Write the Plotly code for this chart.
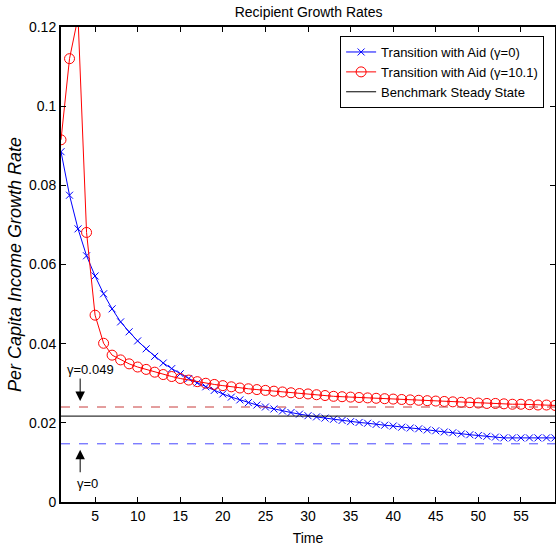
import plotly.graph_objects as go

time = list(range(1, 60))
growth_aid_gamma0 = [0.0885, 0.0775, 0.0690, 0.0622, 0.0571, 0.0526, 0.0488, 0.0455, 0.0430, 0.0407,
                     0.0387, 0.0368, 0.0351, 0.0337, 0.0324, 0.0312, 0.0301, 0.0291, 0.0282, 0.0273,
                     0.0265, 0.0258, 0.0251, 0.0245, 0.0240, 0.0235, 0.0230, 0.0226, 0.0222, 0.0218,
                     0.0215, 0.0212, 0.0209, 0.0206, 0.0203, 0.0201, 0.0199, 0.0196, 0.0194, 0.0192,
                     0.0189, 0.0187, 0.0185, 0.0182, 0.0180, 0.0177, 0.0175, 0.0172, 0.0170, 0.0168,
                     0.0166, 0.0164, 0.0162, 0.0162, 0.0162, 0.0162, 0.0162, 0.0162, 0.0162]
growth_aid_gamma10 = [0.0915, 0.1120, 0.1225, 0.0681, 0.0472, 0.0401, 0.0371, 0.0359, 0.0349, 0.0341,
                      0.0335, 0.0328, 0.0322, 0.0317, 0.0312, 0.0308, 0.0304, 0.0300, 0.0297, 0.0294,
                      0.0291, 0.0288, 0.0286, 0.0284, 0.0282, 0.0280, 0.0278, 0.0276, 0.0274, 0.0273,
                      0.0271, 0.0269, 0.0267, 0.0266, 0.0265, 0.0264, 0.0263, 0.0262, 0.0261, 0.0260,
                      0.0259, 0.0258, 0.0257, 0.0256, 0.0255, 0.0254, 0.0253, 0.0252, 0.0251, 0.0250,
                      0.0249, 0.0249, 0.0248, 0.0247, 0.0247, 0.0246, 0.0245, 0.0245, 0.0244]
benchmark_ss = 0.0217
ss_gamma_0049 = 0.0240
ss_gamma_0 = 0.0147
arrow_tip_0049 = 0.0255
arrow_tip_0 = 0.0132
arrow_x = 3.25

x_ticks = [5, 10, 15, 20, 25, 30, 35, 40, 45, 50, 55]
y_ticks = [0, 0.02, 0.04, 0.06, 0.08, 0.1, 0.12]
y_ticklabels = ["0", "0.02", "0.04", "0.06", "0.08", "0.1", "0.12"]

FONT = "Liberation Sans, Arial, Helvetica, sans-serif"

fig = go.Figure()
fig.add_trace(go.Scatter(
    x=time, y=growth_aid_gamma0, mode="lines+markers",
    name="Transition with Aid (γ=0)",
    line=dict(color="#0000ff", width=1),
    marker=dict(symbol="x-thin", size=7, line=dict(color="#0000ff", width=1)),
))
fig.add_trace(go.Scatter(
    x=time, y=growth_aid_gamma10, mode="lines+markers",
    name="Transition with Aid (γ=10.1)",
    line=dict(color="#ff0000", width=1),
    marker=dict(symbol="circle-open", size=10, color="#ff0000", line=dict(color="#ff0000", width=1)),
))
fig.add_trace(go.Scatter(
    x=[time[0], time[-1]], y=[benchmark_ss, benchmark_ss], mode="lines",
    name="Benchmark Steady State",
    line=dict(color="black", width=1),
))
fig.add_trace(go.Scatter(
    x=[time[0], time[-1]], y=[ss_gamma_0049, ss_gamma_0049], mode="lines",
    showlegend=False, line=dict(color="#c83c3c", width=1, dash="dash"),
))
fig.add_trace(go.Scatter(
    x=[time[0], time[-1]], y=[ss_gamma_0, ss_gamma_0], mode="lines",
    showlegend=False, line=dict(color="#4646ff", width=1, dash="dash"),
))

fig.add_annotation(x=arrow_x, y=arrow_tip_0049, xref="x", yref="y", text="",
                   showarrow=True, ax=0, ay=-24, arrowhead=2, arrowsize=1.9,
                   arrowwidth=1, arrowcolor="black")
fig.add_annotation(x=arrow_x, y=arrow_tip_0, xref="x", yref="y", text="",
                   showarrow=True, ax=0, ay=24, arrowhead=2, arrowsize=1.9,
                   arrowwidth=1, arrowcolor="black")
fig.add_annotation(x=1.45, y=0.0336, xref="x", yref="y", text="γ=0.049",
                   showarrow=False, xanchor="left", yanchor="middle",
                   font=dict(family=FONT, size=13, color="black"))
fig.add_annotation(x=2.6, y=0.0046, xref="x", yref="y", text="γ=0",
                   showarrow=False, xanchor="left", yanchor="middle",
                   font=dict(family=FONT, size=13, color="black"))

axis_common = dict(
    showline=True, linecolor="black", linewidth=2, mirror="ticks",
    ticks="inside", ticklen=5, tickwidth=1, tickcolor="black",
    showgrid=False, zeroline=False, automargin=False,
    tickfont=dict(family=FONT, size=14, color="black"),
)
fig.update_xaxes(range=[time[0], time[-1]], tickvals=x_ticks,
                 title=dict(text="Time", font=dict(family=FONT, size=14, color="black"), standoff=10),
                 **axis_common)
fig.update_yaxes(range=[0, 0.12], tickvals=y_ticks, ticktext=y_ticklabels,
                 title=dict(text="<i>Per Capita Income Growth Rate</i>",
                            font=dict(family=FONT, size=18, color="black"), standoff=3),
                 **axis_common)

fig.update_layout(
    width=556, height=552,
    margin=dict(l=61, r=1, t=27, b=50),
    paper_bgcolor="white", plot_bgcolor="white",
    title=dict(text="Recipient Growth Rates", x=0.555, xanchor="center", y=0.978, yanchor="middle",
               font=dict(family=FONT, size=14, color="black")),
    font=dict(family=FONT, color="black"),
    legend=dict(x=0.565, y=0.981, xanchor="left", yanchor="top",
                bordercolor="black", borderwidth=1, bgcolor="white",
                font=dict(family=FONT, size=13, color="black"),
                tracegroupgap=0, itemwidth=30),
    showlegend=True,
)

fig.write_html("out.html", config={"responsive": False, "displayModeBar": False},
               post_script="document.body.style.margin='0';document.body.style.overflow='hidden';")
